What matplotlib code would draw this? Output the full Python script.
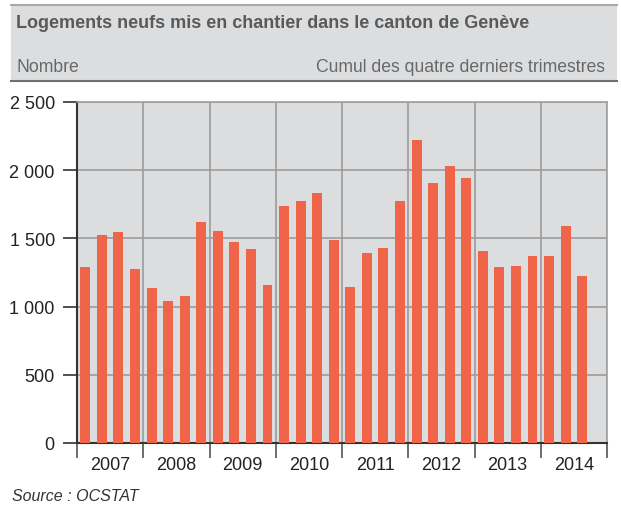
import matplotlib
matplotlib.use('Agg')
import matplotlib.pyplot as plt
from matplotlib.patches import Rectangle
from matplotlib.lines import Line2D
import numpy as np

# Data: quarterly values (cumul des 4 derniers trimestres), 2007 Q1 .. 2014 Q3
years = ['2007', '2008', '2009', '2010', '2011', '2012', '2013', '2014']
logements = [1287, 1522, 1544, 1279,
             1140, 1044, 1081, 1618,
             1551, 1471, 1419, 1162,
             1735, 1772, 1831, 1485,
             1147, 1390, 1426, 1772,
             2221, 1904, 2029, 1941,
             1404, 1287, 1294, 1368,
             1368, 1588, 1221]
y_ticks = [0, 500, 1000, 1500, 2000, 2500]

title = 'Logements neufs mis en chantier dans le canton de Genève'
left_label = 'Nombre'
right_label = 'Cumul des quatre derniers trimestres'
source = 'Source : OCSTAT'

plt.rcParams['font.family'] = ['Liberation Sans', 'DejaVu Sans']

W, H = 621, 506
fig = plt.figure(figsize=(W / 100, H / 100), dpi=100)

# header band
fig.patches.append(Rectangle((11 / W, 1 - 82 / H), (617 - 11) / W, 76 / H,
                             transform=fig.transFigure, facecolor='#dcdddf',
                             edgecolor='none', zorder=0))
fig.lines.append(Line2D([11 / W, 617 / W], [1 - 6 / H, 1 - 6 / H],
                        transform=fig.transFigure, color='#a8a8a8', lw=1.5))
fig.lines.append(Line2D([11 / W, 617 / W], [1 - 82 / H, 1 - 82 / H],
                        transform=fig.transFigure, color='#707070', lw=1.5))
fig.text(16 / W, 1 - 23 / H, title, fontsize=13, fontweight='bold',
         color='#5a5a5a', va='center', ha='left')
fig.text(16 / W, 1 - 68 / H, left_label, fontsize=12.7, color='#686868',
         va='center', ha='left')
fig.text(605 / W, 1 - 68 / H, right_label, fontsize=12.7, color='#686868',
         va='center', ha='right')
fig.text(12 / W, 1 - 497 / H, source, fontsize=11.5, style='italic',
         color='#333333', va='center', ha='left')

# chart
ax = fig.add_axes([77 / W, 1 - 444 / H, 530 / W, 341 / H])
ax.set_facecolor('#dcdddf')
x = np.arange(len(logements))
ax.bar(x, logements, width=0.6, color='#f0654a', zorder=3)

n_q = 4 * len(years)
ax.set_xlim(-0.5, n_q - 0.5)
ax.set_ylim(0, 2500)

ax.set_yticks(y_ticks)
ax.set_yticklabels([f'{v:,}'.replace(',', ' ') for v in y_ticks])
ax.set_xticks(np.arange(0, n_q + 1, 4) - 0.5)
ax.set_xticklabels([])
ax.set_xticks(np.arange(len(years)) * 4 + 1.5, minor=True)
ax.set_xticklabels(years, minor=True)

ax.tick_params(axis='y', length=10, width=1.2, color='#333333', pad=6,
               labelsize=13, labelcolor='#222222')
ax.tick_params(axis='x', which='major', length=11, width=1.2, color='#555555')
ax.tick_params(axis='x', which='minor', length=0, pad=9, labelsize=13,
               labelcolor='#222222')

ax.grid(True, which='major', color='#9c9c9c', lw=1.2, zorder=1)
ax.set_axisbelow(True)

for side in ['top', 'right']:
    ax.spines[side].set_color('#a0a0a0')
    ax.spines[side].set_linewidth(1.2)
for side in ['left', 'bottom']:
    ax.spines[side].set_color('#333333')
    ax.spines[side].set_linewidth(1.5)

fig.savefig('out.png', dpi=100)
